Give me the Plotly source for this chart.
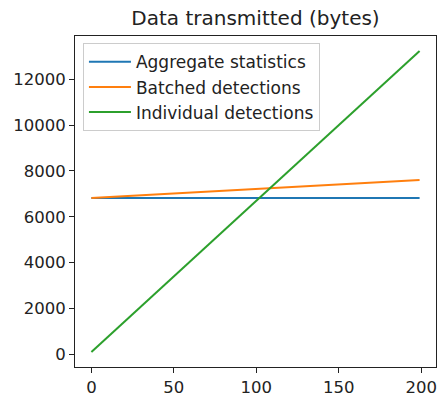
import plotly.graph_objects as go

# Data (straight lines, endpoints at x=0 and x=199)
x_vals = [0, 199]
aggregate_statistics = [6825, 6825]
batched_detections = [6825, 7610]
individual_detections = [100, 13234]

series_names = ["Aggregate statistics", "Batched detections", "Individual detections"]
series_values = [aggregate_statistics, batched_detections, individual_detections]
colors = ["#1f77b4", "#ff7f0e", "#2ca02c"]

x_ticks = [0, 50, 100, 150, 200]
y_ticks = [0, 2000, 4000, 6000, 8000, 10000, 12000]
y_tick_labels = ["0", "2000", "4000", "6000", "8000", "10000", "12000"]

fig = go.Figure()
for name, vals, c in zip(series_names, series_values, colors):
    fig.add_trace(go.Scatter(x=x_vals, y=vals, mode="lines", name=name,
                             line=dict(color=c, width=2)))

font = "DejaVu Sans"
axis_common = dict(showgrid=False, zeroline=False, showline=True, linecolor="#222",
                   linewidth=1, mirror=True, ticks="outside", ticklen=5,
                   tickcolor="#222", tickwidth=1, automargin=False,
                   tickfont=dict(family=font, size=16.5, color="#222"))
fig.update_layout(
    width=440, height=394,
    margin=dict(l=75, r=4, t=36, b=27),
    paper_bgcolor="white", plot_bgcolor="white",
    title=dict(text="Data transmitted (bytes)", x=(75 + 436) / 2 / 440, xanchor="center",
               y=1 - 18 / 394, yanchor="middle",
               font=dict(family=font, size=20, color="#222")),
    xaxis=dict(range=[-9.95, 208.95], tickvals=x_ticks,
               ticktext=[str(v) for v in x_ticks], **axis_common),
    yaxis=dict(range=[-557, 13891], tickvals=y_ticks, ticktext=y_tick_labels,
               **axis_common),
    showlegend=True,
    legend=dict(x=0.022, y=0.978, xanchor="left", yanchor="top",
                bgcolor="rgba(255,255,255,0.8)", bordercolor="#ccc", borderwidth=1,
                font=dict(family=font, size=17, color="#222"),
                tracegroupgap=0, itemwidth=42),
)
fig.write_html("out.html")
